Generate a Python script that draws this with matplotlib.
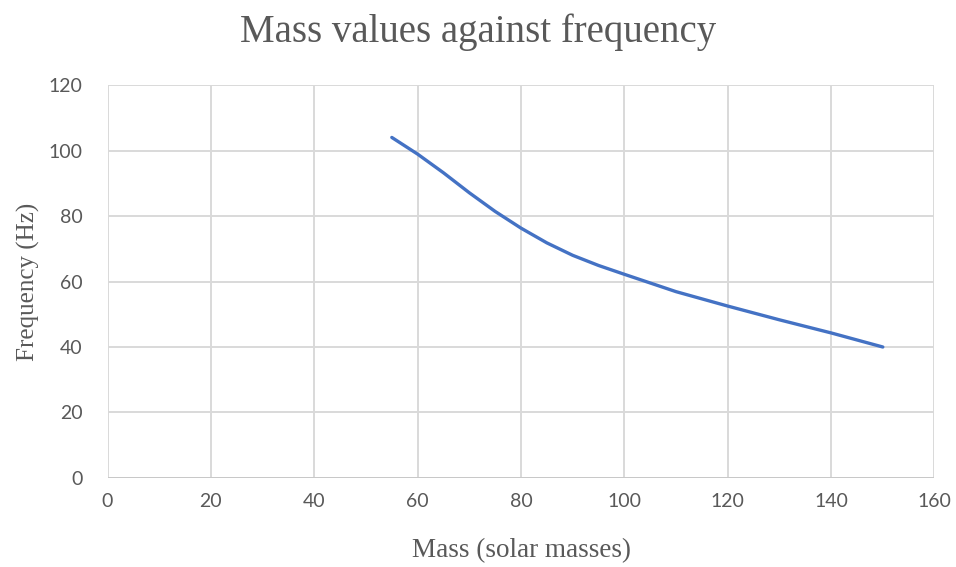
# mass vs frequency chart

import matplotlib.pyplot as plt

# values
mass = [55, 60, 65, 70, 75, 80, 85, 90, 95, 100, 110, 120, 130, 140, 150]
freq = [104, 98.9, 93.2, 87.1, 81.4, 76.3, 71.8, 68.0, 64.9, 62.2, 56.9, 52.5, 48.3, 44.3, 40]

x_ticks = [0, 20, 40, 60, 80, 100, 120, 140, 160]
y_ticks = [0, 20, 40, 60, 80, 100, 120]

fig = plt.figure(figsize=(9.56, 5.67), dpi=100)
ax = fig.add_axes([0.1125, 0.157, 0.865, 0.693])

ax.plot(mass, freq, color='#4472C4', lw=2.4, solid_capstyle='round', solid_joinstyle='round', zorder=3)

ax.set_xlim(0, 160)
ax.set_ylim(0, 120)
ax.set_xticks(x_ticks)
ax.set_yticks(y_ticks)
ax.grid(True, color='#d9d9d9', lw=1.4)
ax.set_axisbelow(True)
for s in ax.spines.values():
    s.set_visible(False)
ax.axhline(0, color='#c8c8c8', lw=1.4, zorder=2)

ax.tick_params(length=0, labelsize=14, labelcolor='#595959')
ax.tick_params(axis='x', pad=11)
ax.tick_params(axis='y', pad=18)
for lab in ax.get_xticklabels() + ax.get_yticklabels():
    lab.set_family('Lato')

ax.set_xlabel('Mass (solar masses)', family='Liberation Serif', fontsize=19.5, color='#595959', labelpad=20)
ax.set_ylabel('Frequency (Hz)', family='Liberation Serif', fontsize=18, color='#595959', labelpad=6)
fig.suptitle('Mass values against frequency', family='Liberation Serif', fontsize=28, color='#595959', y=0.977)

fig.savefig('out.png', dpi=100)
